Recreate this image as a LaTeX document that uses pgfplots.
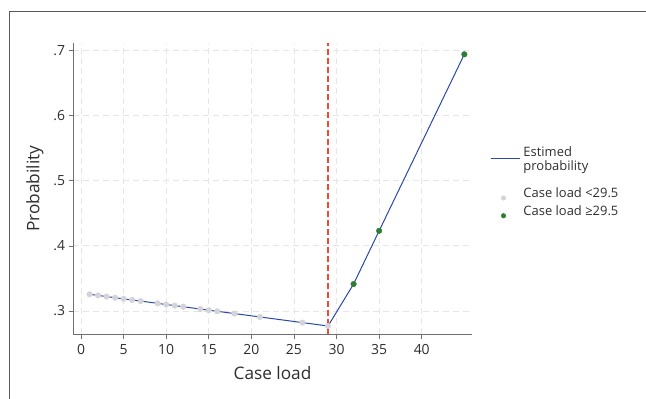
\documentclass[border=0pt]{standalone}
\usepackage{pgfplots}
\pgfplotsset{compat=1.18}
\usepackage{fontspec}
\setmainfont{Open Sans}
\definecolor{lineblue}{HTML}{2A48A8}
\definecolor{ptgray}{HTML}{D4D4D8}
\definecolor{ptgreen}{HTML}{2E7D32}
\definecolor{axgray}{HTML}{707070}
\definecolor{gridgray}{HTML}{E6E6E6}
\definecolor{refred}{HTML}{F54535}
\pgfplotsset{
  mylineleg/.style={legend image code/.code={\draw[##1, draw=lineblue, line width=1.1bp] (0bp,0.5bp) -- (29.5bp,0.5bp); \path[draw=none,fill=none] (0,0) (31bp,0);}},
  mymarkleg/.style={legend image code/.code={\path[##1, mark size=2.3bp] plot coordinates {(13bp,-4.5bp)}; \path[draw=none,fill=none] (0,0) (31bp,0);}},
}
\begin{document}
\begin{tikzpicture}
\useasboundingbox (0,0) rectangle (646bp,399bp);
\draw[color=axgray!80!black, line width=1bp] (9bp,0) -- (9bp,387bp) -- (646bp,387bp);
\begin{axis}[
  at={(73bp,65bp)}, anchor=south west,
  scale only axis, width=399bp, height=290.7bp,
  xmin=-0.94, xmax=45.9, ymin=0.2647, ymax=0.7114,
  axis x line*=bottom, axis y line*=left,
  axis line style={color=axgray, line width=0.9bp},
  xtick={0,5,...,40}, ytick={0.3,0.4,0.5,0.6,0.7},
  yticklabels={.3,.4,.5,.6,.7},
  tick align=outside, major tick length=4.5bp,
  tick style={color=axgray, line width=0.8bp},
  /pgf/number format/assume math mode=true,
  ticklabel style={font=\fontsize{14}{16}\selectfont, color=black!82},
  xticklabel style={yshift=-2.5bp},
  xlabel={Case load}, ylabel={Probability},
  label style={font=\fontsize{17.3}{20}\selectfont, color=black!82},
  xlabel style={yshift=-5bp},
  ylabel style={yshift=3bp},
  grid=major,
  major grid style={color=gridgray, dash pattern=on 6bp off 4bp, line width=0.9bp},
  legend style={at={(1.037,0.659)}, anchor=north west, draw=none, fill=none,
    font=\fontsize{13}{13.7}\selectfont, row sep=2.4bp,
    nodes={align=left, text=black!82}},
  legend cell align=left,
  clip=false,
]
\addplot[lineblue, line width=1bp, mylineleg] coordinates {
 (1,0.3257) (2,0.3240) (3,0.3222) (4,0.3205) (5,0.3187) (6,0.3170) (7,0.3153)
 (9,0.3118) (10,0.3100) (11,0.3083) (12,0.3066) (14,0.3031) (15,0.3013)
 (16,0.2996) (18,0.2961) (21,0.2909) (26,0.2822) (29,0.2770)
 (32,0.3415) (35,0.4233) (45,0.6945)};
\addlegendentry{Estimed\\probability}
\addlegendimage{empty legend}
\addlegendentry[inner sep=0pt]{\rule{0pt}{6bp}}
\addplot[only marks, mark=*, mark size=2.8bp, color=ptgray, mymarkleg] coordinates {
 (1,0.3257) (2,0.3240) (3,0.3222) (4,0.3205) (5,0.3187) (6,0.3170) (7,0.3153)
 (9,0.3118) (10,0.3100) (11,0.3083) (12,0.3066) (14,0.3031) (15,0.3013)
 (16,0.2996) (18,0.2961) (21,0.2909) (26,0.2822) (29,0.2770)};
\addlegendentry{Case load <29.5}
\addplot[only marks, mark=*, mark size=2.8bp, color=ptgreen, mymarkleg] coordinates {
 (32,0.3415) (35,0.4233) (45,0.6945)};
\addlegendentry{Case load ≥29.5}
\draw[refred, line width=1.1bp, dash pattern=on 6bp off 3bp] (axis cs:29,0.2647) -- (axis cs:29,0.7114);
\end{axis}
\end{tikzpicture}
\end{document}
